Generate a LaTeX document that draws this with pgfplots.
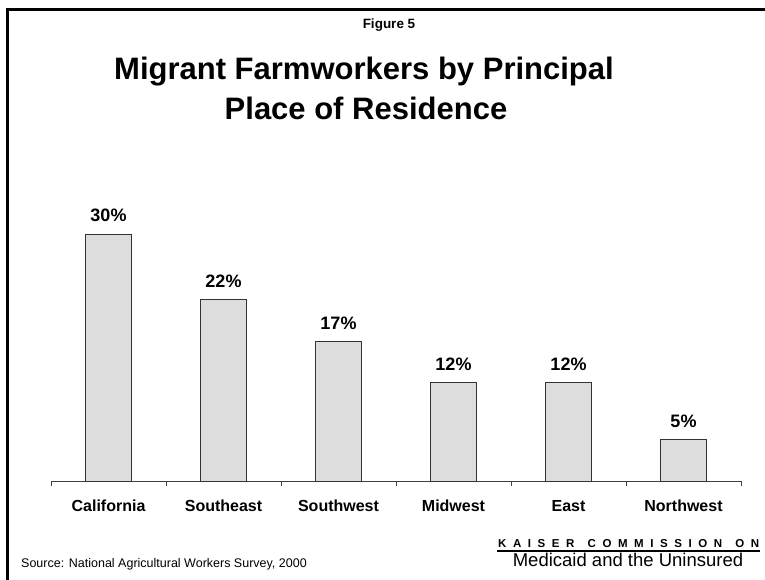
\documentclass[border=0pt]{standalone}
\usepackage{fontspec}
\setmainfont{Liberation Sans}
\usepackage{pgfplots}
\pgfplotsset{compat=1.18}

\definecolor{barfill}{HTML}{DDDDDD}
\definecolor{barline}{HTML}{333333}

\begin{document}
\begin{tikzpicture}
\useasboundingbox (0pt,0pt) rectangle (765pt,580pt);
% frame (top and left only)
\fill[black] (5.5pt,0pt) rectangle (8.5pt,571.5pt);
\fill[black] (5.5pt,568.5pt) rectangle (765pt,571.5pt);

% titles
\node[anchor=base, font=\bfseries\fontsize{13.5}{16}\selectfont] at (389pt,551pt) {Figure 5};
\node[anchor=base, font=\bfseries\fontsize{31}{37}\selectfont] at (364pt,500pt) {Migrant Farmworkers by Principal};
\node[anchor=base, font=\bfseries\fontsize{31}{37}\selectfont] at (366pt,460pt) {Place of Residence};

\begin{axis}[
    at={(51pt,99pt)}, anchor=south west,
    scale only axis, width=690pt, height=247pt,
    xmin=-0.5, xmax=5.5, ymin=0, ymax=30,
    axis y line=none,
    axis x line*=bottom,
    axis line style={-, line width=0.8pt, black!75},
    clip=false,
    ybar, bar width=46pt,
    xtick={0,...,5},
    xticklabels={California,Southeast,Southwest,Midwest,East,Northwest},
    major tick length=0pt,
    minor xtick={-0.5,0.5,...,5.5},
    minor tick length=5pt,
    tick align=outside,
    minor tick style={line width=0.8pt, black!75},
    /pgf/number format/assume math mode=true,
    xticklabel style={font=\bfseries\fontsize{16}{19}\selectfont, anchor=base, yshift=-31pt},
    nodes near coords={\pgfmathprintnumber{\pgfplotspointmeta}\%},
    nodes near coords style={font=\bfseries\fontsize{18}{21}\selectfont, anchor=base, yshift=12pt, inner sep=0pt},
]
\addplot[fill=barfill, draw=barline, line width=0.8pt]
    coordinates {(0,30) (1,22) (2,17) (3,12) (4,12) (5,5)};
\end{axis}

% source and logo
\node[anchor=base west, font=\fontsize{12.5}{15}\selectfont, inner sep=0pt] at (21pt,12pt) {Source: National Agricultural Workers Survey, 2000};
\node[anchor=base west, font=\bfseries\fontsize{11.5}{13}\selectfont, inner sep=0pt] (k) at (498pt,32pt)
    {\makebox[261pt][s]{K\hfill A\hfill I\hfill S\hfill E\hfill R\hfill\hfill C\hfill O\hfill M\hfill M\hfill I\hfill S\hfill S\hfill I\hfill O\hfill N\hfill\hfill O\hfill N}};
\draw[line width=1.2pt] (497pt,29pt) -- (760pt,29pt);
\node[anchor=base, font=\fontsize{18.5}{22}\selectfont, inner sep=0pt] at (628pt,13pt) {Medicaid and the Uninsured};
\end{tikzpicture}
\end{document}
